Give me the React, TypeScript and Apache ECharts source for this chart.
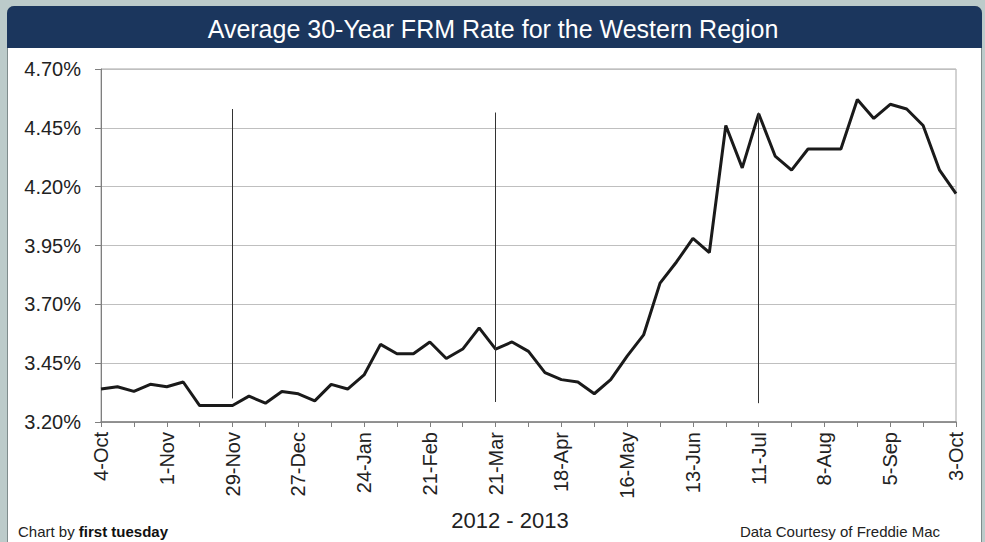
import React, { useEffect, useRef } from "react";
import * as echarts from "echarts";

const categories = [
  "4-Oct", "11-Oct", "18-Oct", "25-Oct", "1-Nov", "8-Nov", "15-Nov", "22-Nov", "29-Nov",
  "6-Dec", "13-Dec", "20-Dec", "27-Dec", "3-Jan", "10-Jan", "17-Jan", "24-Jan", "31-Jan",
  "7-Feb", "14-Feb", "21-Feb", "28-Feb", "7-Mar", "14-Mar", "21-Mar", "28-Mar", "4-Apr",
  "11-Apr", "18-Apr", "25-Apr", "2-May", "9-May", "16-May", "23-May", "30-May", "6-Jun",
  "13-Jun", "20-Jun", "27-Jun", "4-Jul", "11-Jul", "18-Jul", "25-Jul", "1-Aug", "8-Aug",
  "15-Aug", "22-Aug", "29-Aug", "5-Sep", "12-Sep", "19-Sep", "26-Sep", "3-Oct",
];

const rates = [
  3.34, 3.35, 3.33, 3.36, 3.35, 3.37, 3.27, 3.27, 3.27, 3.31, 3.28, 3.33, 3.32, 3.29,
  3.36, 3.34, 3.40, 3.53, 3.49, 3.49, 3.54, 3.47, 3.51, 3.60, 3.51, 3.54, 3.50, 3.41,
  3.38, 3.37, 3.32, 3.38, 3.48, 3.57, 3.79, 3.88, 3.98, 3.92, 4.46, 4.28, 4.51, 4.33,
  4.27, 4.36, 4.36, 4.36, 4.57, 4.49, 4.55, 4.53, 4.46, 4.27, 4.17,
];

// vertical marker lines: [category, top value, bottom value]
const markerCats = ["29-Nov", "21-Mar", "11-Jul"];
const markerTops = [4.53, 4.515, 4.515];
const markerBottoms = [3.30, 3.285, 3.28];

const titleText = "Average 30-Year FRM Rate for the Western Region";
const xAxisTitle = "2012 - 2013";
const sourceText = "Data Courtesy of Freddie Mac";

const FONT = "'Liberation Sans', Arial, sans-serif";

export default function App() {
  const ref = useRef<HTMLDivElement>(null);

  useEffect(() => {
    if (!ref.current) return;
    const chart = echarts.init(ref.current, null, { renderer: "svg" });
    const option = {
      animation: false,
      backgroundColor: "#bccbca",
      textStyle: { fontFamily: FONT },
      graphic: [
        {
          type: "rect",
          z: -10,
          silent: true,
          shape: { x: 7.5, y: 6.5, width: 974, height: 540, r: [6, 6, 0, 0] },
          style: { fill: "#ffffff", stroke: "#7f8c8c", lineWidth: 1 },
        },
        {
          type: "rect",
          z: -9,
          silent: true,
          shape: { x: 7, y: 6, width: 975, height: 42, r: [7, 7, 0, 0] },
          style: { fill: "#1b365d" },
        },
        {
          type: "text",
          silent: true,
          x: 493,
          y: 29,
          style: {
            text: titleText,
            fill: "#ffffff",
            font: `25px ${FONT}`,
            textAlign: "center",
            textVerticalAlign: "middle",
          },
        },
        {
          type: "text",
          silent: true,
          x: 510,
          y: 520,
          style: {
            text: xAxisTitle,
            fill: "#222222",
            font: `22px ${FONT}`,
            textAlign: "center",
            textVerticalAlign: "middle",
          },
        },
        {
          type: "text",
          silent: true,
          x: 18,
          y: 531,
          style: {
            text: "{n|Chart by }{b|first tuesday}",
            textVerticalAlign: "middle",
            rich: {
              n: { fontFamily: FONT, fontSize: 15, fill: "#222222", color: "#222222" },
              b: { fontFamily: FONT, fontSize: 15, fontWeight: "bold", fill: "#111111", color: "#111111" },
            },
          },
        },
        {
          type: "text",
          silent: true,
          x: 940,
          y: 531,
          style: {
            text: sourceText,
            fill: "#222222",
            font: `15px ${FONT}`,
            textAlign: "right",
            textVerticalAlign: "middle",
          },
        },
      ],
      grid: {
        left: 101,
        right: 29,
        top: 69,
        bottom: 120,
        show: true,
        borderColor: "#a6a6a6",
        borderWidth: 1,
        backgroundColor: "transparent",
      },
      xAxis: {
        type: "category",
        data: categories,
        boundaryGap: false,
        axisLine: { show: true, lineStyle: { color: "#7f7f7f", width: 1.5 } },
        axisTick: { show: true, interval: 1, length: 5, lineStyle: { color: "#7f7f7f" } },
        axisLabel: {
          interval: 3,
          rotate: 90,
          margin: 10,
          fontSize: 20,
          color: "#222222",
          fontFamily: FONT,
        },
        splitLine: { show: false },
      },
      yAxis: {
        type: "value",
        min: 3.2,
        max: 4.7,
        interval: 0.25,
        axisLine: { show: true, lineStyle: { color: "#7f7f7f" } },
        axisTick: { show: true, length: 6, lineStyle: { color: "#7f7f7f" } },
        axisLabel: {
          margin: 20,
          fontSize: 20,
          color: "#222222",
          fontFamily: FONT,
          formatter: (v: number) => v.toFixed(2) + "%",
        },
        splitLine: { show: true, lineStyle: { color: "#bfbfbf", width: 1 } },
      },
      series: [
        {
          type: "line",
          data: rates,
          symbol: "none",
          lineStyle: { color: "#1a1a1a", width: 3 },
          markLine: {
            silent: true,
            symbol: "none",
            label: { show: false },
            lineStyle: { color: "#333333", width: 1, type: "solid" },
            data: markerCats.map((c, i) => [
              { coord: [c, markerTops[i]] },
              { coord: [c, markerBottoms[i]] },
            ]),
          },
        },
      ],
    };
    chart.setOption(option as any);
    return () => chart.dispose();
  }, []);

  return (
    <div
      ref={ref}
      style={{ position: "fixed", left: 0, top: 0, width: 985, height: 542 }}
    />
  );
}
